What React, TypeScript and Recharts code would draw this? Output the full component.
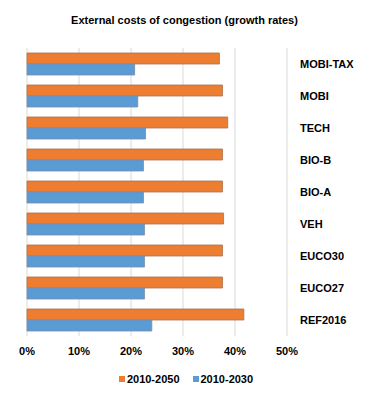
import { Bar, BarChart, CartesianGrid, Legend, XAxis, YAxis } from 'recharts';

const scenarios = ['MOBI-TAX', 'MOBI', 'TECH', 'BIO-B', 'BIO-A', 'VEH', 'EUCO30', 'EUCO27', 'REF2016'];
const growth2050 = [0.37, 0.376, 0.386, 0.376, 0.376, 0.378, 0.376, 0.376, 0.417];
const growth2030 = [0.207, 0.213, 0.228, 0.224, 0.224, 0.226, 0.226, 0.226, 0.24];
const xTicks = [0, 0.1, 0.2, 0.3, 0.4, 0.5];

const legendItems = [
  { label: '2010-2050', color: '#ED7D31' },
  { label: '2010-2030', color: '#5B9BD5' },
];

const data = scenarios.map((name, i) => ({
  name,
  g2050: growth2050[i],
  g2030: growth2030[i],
}));

const font = '"Liberation Sans", Arial, sans-serif';

function LegendContent() {
  return (
    <div style={{ display: 'flex', justifyContent: 'center', gap: 13, paddingRight: 24, fontSize: 11, fontWeight: 'bold' }}>
      {legendItems.map((item) => (
        <span key={item.label} style={{ display: 'flex', alignItems: 'center', gap: 2, color: '#000' }}>
          <span style={{ display: 'inline-block', width: 6, height: 6, background: item.color }} />
          {item.label}
        </span>
      ))}
    </div>
  );
}

export default function App() {
  return (
    <div style={{ position: 'relative', width: 369, height: 402, background: '#fff', fontFamily: font }}>
      <style>{`body{margin:0}`}</style>
      <div
        style={{
          position: 'absolute',
          top: 14,
          left: 0,
          width: 369,
          textAlign: 'center',
          fontSize: 11,
          fontWeight: 'bold',
          color: '#000',
        }}
      >
        External costs of congestion (growth rates)
      </div>
      <BarChart
        width={369}
        height={402}
        data={data}
        layout="vertical"
        barGap={0}
        barSize={11}
        margin={{ top: 48, right: 0, left: 27, bottom: 7 }}
      >
        <CartesianGrid horizontal={false} stroke="#d9d9d9" />
        <XAxis
          type="number"
          domain={[0, 0.5]}
          ticks={xTicks}
          tickFormatter={(v: number) => `${Math.round(v * 100)}%`}
          axisLine={false}
          tickLine={false}
          height={37}
          tick={{ fontSize: 11, fontWeight: 'bold', fill: '#000', fontFamily: font, dy: 3 }}
        />
        <YAxis
          type="category"
          dataKey="name"
          orientation="right"
          width={82}
          axisLine={false}
          tickLine={false}
          tick={{ fontSize: 11, fontWeight: 'bold', fill: '#000', fontFamily: font, dx: 5 }}
        />
        <Legend verticalAlign="bottom" height={22} content={<LegendContent />} />
        <Bar
          dataKey="g2050"
          name="2010-2050"
          fill="#ED7D31"
          stroke="#a9714f"
          strokeWidth={0.8}
          isAnimationActive={false}
        />
        <Bar
          dataKey="g2030"
          name="2010-2030"
          fill="#5B9BD5"
          stroke="#7a8ea3"
          strokeWidth={0.8}
          isAnimationActive={false}
        />
      </BarChart>
    </div>
  );
}
